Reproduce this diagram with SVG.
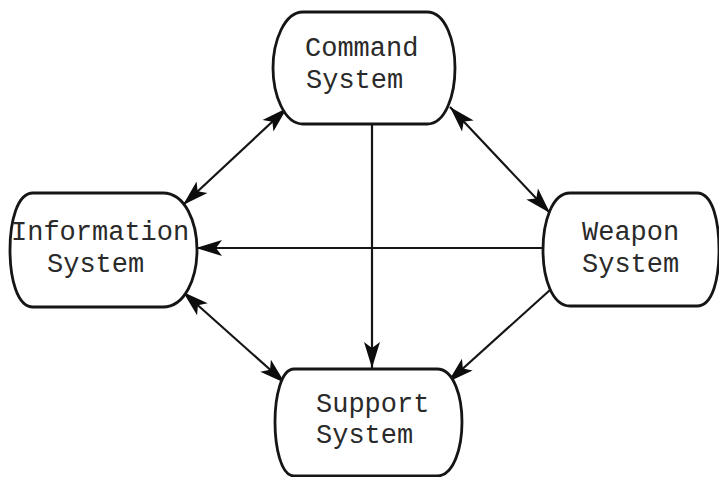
<svg xmlns="http://www.w3.org/2000/svg" width="719" height="477" viewBox="0 0 719 477">
<defs>
<marker id="ah" markerWidth="30" markerHeight="20" refX="27" refY="10" orient="auto-start-reverse" markerUnits="userSpaceOnUse">
<path d="M27,10 L1,2 L7,10 L1,18 Z" fill="#0d0d0d"/>
</marker>
<style>
.node{fill:#fff;stroke:#151515;stroke-width:2.8}
.lbl{font-family:"Liberation Mono","DejaVu Sans Mono",monospace;font-size:27px;fill:#2a2a2a}
.con{stroke:#151515;stroke-width:2.2;fill:none}
</style>
</defs>
<rect width="719" height="477" fill="#fff"/>
<g id="connectors">
<line class="con" x1="287" y1="108" x2="183" y2="205" marker-start="url(#ah)" marker-end="url(#ah)"/>
<line class="con" x1="450" y1="107" x2="550" y2="213" marker-start="url(#ah)" marker-end="url(#ah)"/>
<line class="con" x1="183" y1="292" x2="285" y2="383" marker-start="url(#ah)" marker-end="url(#ah)"/>
<line class="con" x1="550" y1="290" x2="448" y2="382" marker-end="url(#ah)"/>
<line class="con" x1="543" y1="248" x2="196" y2="248" marker-end="url(#ah)"/>
<line class="con" x1="372" y1="124" x2="372" y2="368" marker-end="url(#ah)"/>
</g>
<g id="command">
<path class="node" d="M303,12 H427 C446,12 455,42 455,68 C455,94 446,124 427,124 H303 C284,124 273,94 273,68 C273,42 284,12 303,12 Z"/>
<text class="lbl" x="305" y="56">Command</text>
<text class="lbl" x="306" y="88">System</text>
</g>
<g id="information">
<path class="node" d="M33,193 H163 C185,193 197,222 197,250 C197,278 185,307 163,307 H33 C17,307 10,278 10,250 C10,222 17,193 33,193 Z"/>
<text class="lbl" x="11" y="240">Information</text>
<text class="lbl" x="47" y="272">System</text>
</g>
<g id="weapon">
<path class="node" d="M570,193 H697 C713,193 719,222 719,250 C719,278 713,306 697,306 H570 C552,306 543,278 543,250 C543,222 552,193 570,193 Z"/>
<text class="lbl" x="582" y="240">Weapon</text>
<text class="lbl" x="582" y="272">System</text>
</g>
<g id="support">
<path class="node" d="M294,369 H437 C454,369 462,397 462,422 C462,447 454,476 437,476 H294 C281,476 275,447 275,422 C275,397 281,369 294,369 Z"/>
<text class="lbl" x="316" y="412">Support</text>
<text class="lbl" x="316" y="443">System</text>
</g>
</svg>
